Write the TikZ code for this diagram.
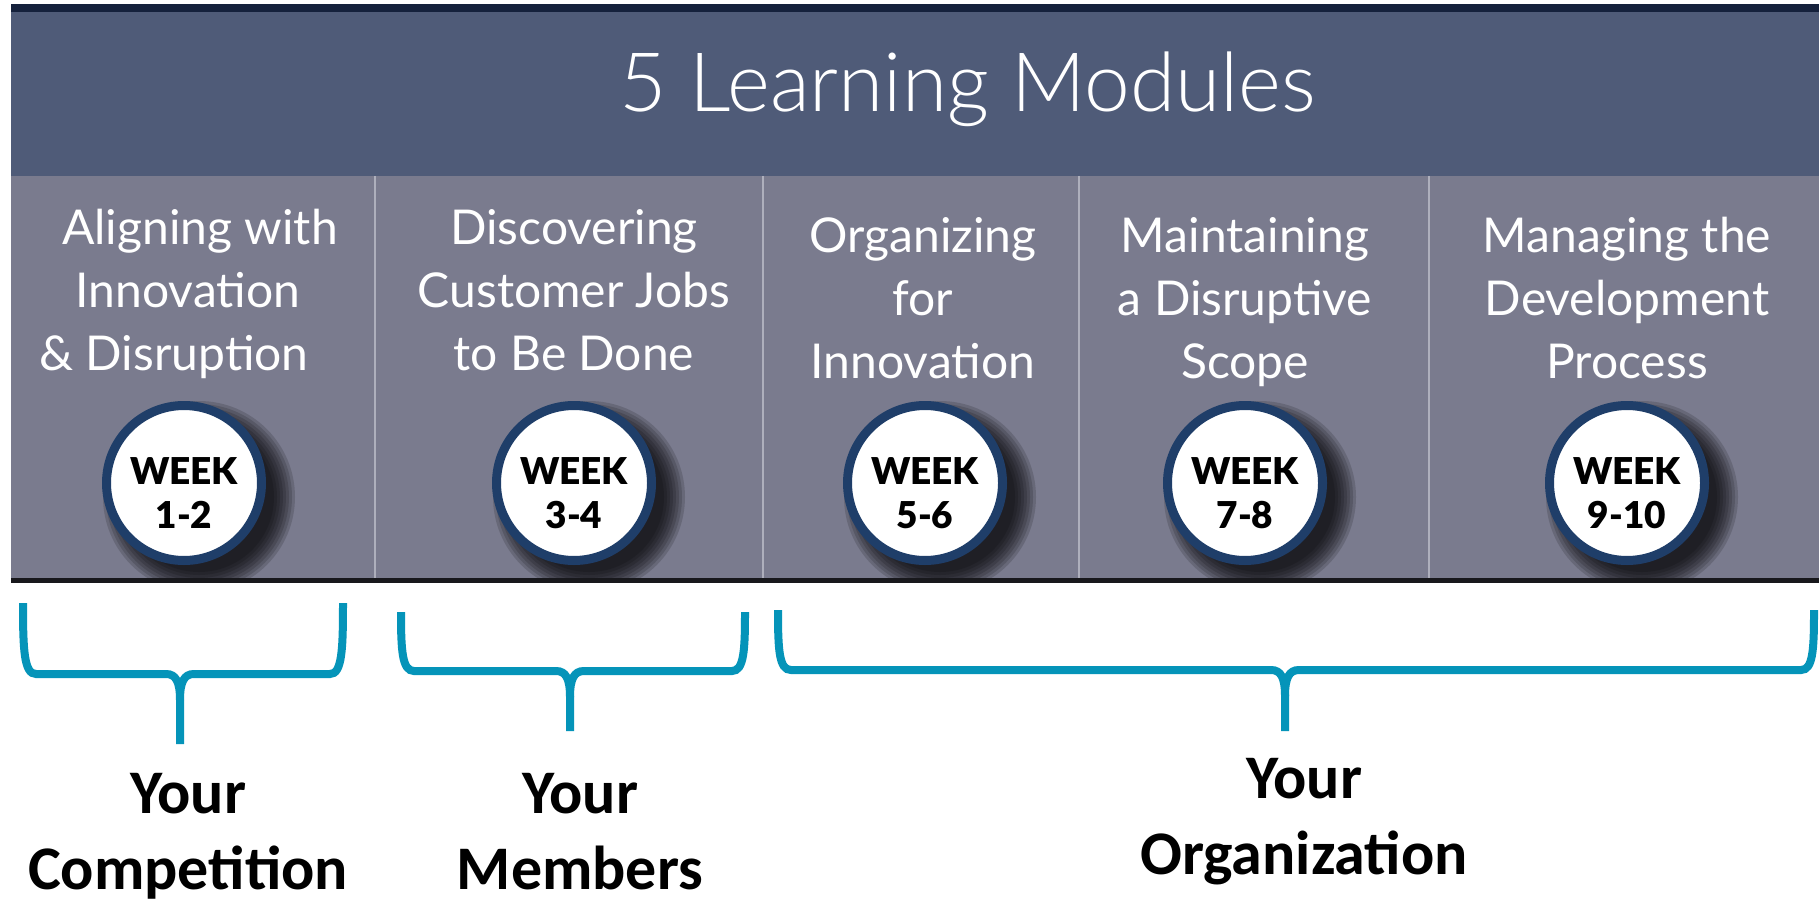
\documentclass[tikz,border=0pt]{standalone}
\usepackage{fontspec}
\setmainfont{Lato}
\newfontfamily\carlito{Carlito}
\newfontfamily\latolight{Lato Light}
\newfontfamily\latoblack{Lato Black}
\definecolor{topline}{HTML}{15213C}
\definecolor{headerc}{HTML}{4F5B78}
\definecolor{panelc}{HTML}{7A7B8E}
\definecolor{dividerc}{HTML}{AEAFBC}
\definecolor{ringc}{HTML}{1F3E69}
\definecolor{bracec}{HTML}{0594B9}
\begin{document}
\begin{tikzpicture}[x=1pt,y=-1pt,
  colhead/.style={text=white,align=center,inner sep=0pt,font=\fontsize{48}{63}\selectfont},
  weekc/.style={circle,fill=white,draw=ringc,line width=9pt,minimum size=155pt,inner sep=0pt},
  weekt/.style={text=black,align=center,inner sep=0pt,font=\latoblack\fontsize{37}{44}\selectfont},
  bracestyle/.style={draw=bracec,line width=8pt},
  lbl/.style={text=black,align=center,inner sep=0pt,font=\carlito\fontsize{62}{76}\selectfont\bfseries}]
\useasboundingbox (0,0) rectangle (1819,904);
\fill[white] (0,0) rectangle (1819,904);
% header
\fill[topline] (11,4) rectangle (1819,12);
\fill[headerc] (11,12) rectangle (1819,176);
\node[text=white,anchor=base,inner sep=0pt,font=\latolight\fontsize{82}{90}\selectfont] (title) at (968,112) {5 Learning Modules};
% panel
\fill[panelc] (11,176) rectangle (1819,580);
\foreach \dx in {375,763,1079,1429} \draw[dividerc,line width=2pt] (\dx,176) -- (\dx,580);
% shadows
\foreach \cx in {184,574,925,1245,1627} {
  \begin{scope}
    \clip (11,176) rectangle (1819,580);
    \foreach \r in {96,93,90,87,84,81,78,75} \fill[black,opacity=0.15] (\cx+15,497) circle (\r pt);
  \end{scope}
}
\fill[black!80!panelc] (11,578) rectangle (1819,583);
% column headings
\node[colhead] (m1) at (188,294.4) {\strut\hspace*{24pt}Aligning with\\Innovation\\\& Disruption\hspace*{28pt}\strut};
\node[colhead] (m2) at (574,294.4) {\strut Discovering\\Customer Jobs\\to Be Done\strut};
\node[colhead] (m3) at (923,302.4) {\strut Organizing\\for\\Innovation\strut};
\node[colhead] (m4) at (1245,302.4) {\strut Maintaining\\a Disruptive\\Scope\strut};
\node[colhead] (m5) at (1627,302.4) {\strut Managing the\\Development\\Process\strut};
% week circles
\foreach \cx/\wk/\i in {184/1-2/1,574/3-4/2,925/5-6/3,1245/7-8/4,1627/9-10/5} {
  \node[weekc] (c\i) at (\cx,483) {};
  \node[weekt] (t\i) at (\cx,498) {\strut WEEK\\\wk\strut};
}
% braces
\coordinate (b1l) at (23,603); \coordinate (b1r) at (343,603); \coordinate (b1t) at (180,744);
\coordinate (b2l) at (401,612); \coordinate (b2r) at (745,612); \coordinate (b2t) at (570,731);
\coordinate (b3l) at (778,610); \coordinate (b3r) at (1814,610); \coordinate (b3t) at (1285,731);
\draw[bracestyle] (b1l) .. controls (23,650) and (24,674) .. (36,674) -- (166,674) .. controls (176,674) and (180,682) .. (180,700) -- (b1t);
\draw[bracestyle] (b1r) .. controls (343,650) and (342,674) .. (330,674) -- (194,674) .. controls (184,674) and (180,682) .. (180,700);
\draw[bracestyle] (b2l) .. controls (401,650) and (402,671) .. (414,671) -- (556,671) .. controls (566,671) and (570,679) .. (570,697) -- (b2t);
\draw[bracestyle] (b2r) .. controls (745,650) and (744,671) .. (732,671) -- (584,671) .. controls (574,671) and (570,679) .. (570,697);
\draw[bracestyle] (b3l) .. controls (778,650) and (779,670) .. (791,670) -- (1271,670) .. controls (1281,670) and (1285,678) .. (1285,696) -- (b3t);
\draw[bracestyle] (b3r) .. controls (1814,650) and (1813,670) .. (1801,670) -- (1299,670) .. controls (1289,670) and (1285,678) .. (1285,696);
% labels
\node[lbl] (l1) at (188,835.8) {\strut Your\\Competition\strut};
\node[lbl] (l2) at (580,835.8) {\strut Your\\Members\strut};
\node[lbl] (l3) at (1304,821) {\strut Your\\Organization\strut};
\end{tikzpicture}
\end{document}
